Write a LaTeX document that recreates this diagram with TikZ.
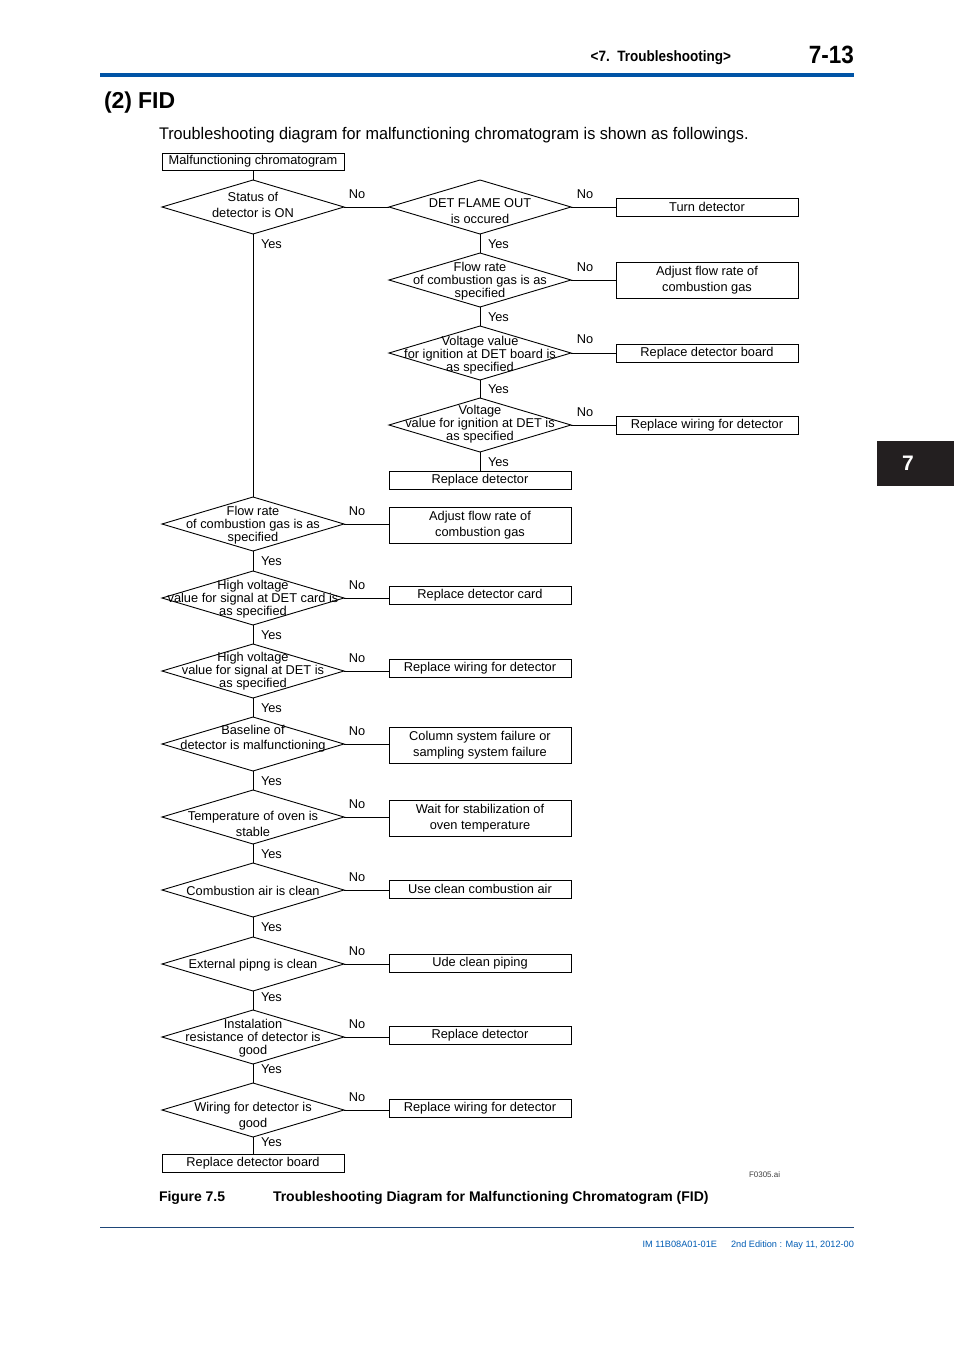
\documentclass[tikz,border=0pt]{standalone}
\usepackage{fontspec}
\setmainfont{Liberation Sans}
\newfontfamily\narrowsans[FakeStretch=0.9]{Liberation Sans}
\newfontfamily\subsans[FakeStretch=0.965]{Liberation Sans}
\usetikzlibrary{shapes.geometric}
\definecolor{hdrblue}{RGB}{0,84,166}
\definecolor{footblue}{RGB}{0,92,180}
\definecolor{footline}{RGB}{30,70,120}
\definecolor{tabblack}{RGB}{35,31,32}
\begin{document}
\begin{tikzpicture}[x=1pt,y=-1pt,
  every node/.style={inner sep=0pt, outer sep=0pt},
  dfont/.style={font=\fontsize{12.8}{16}\selectfont},
  box/.style={draw, line width=0.9pt, minimum width=182pt, minimum height=18pt, dfont, align=center},
  tallbox/.style={box, minimum height=36pt},
  dia/.style={draw, diamond, line width=0.9pt, minimum width=182pt, minimum height=54pt},
  dtext/.style={dfont, align=center},
  dtight/.style={font=\fontsize{12.8}{12.8}\selectfont, align=center},
  yeslbl/.style={dfont, anchor=west, yshift=-1pt},
  nolbl/.style={dfont, yshift=-1pt},
  conn/.style={line width=0.9pt}
]
\useasboundingbox (0,0) rectangle (954,1350);
\fill[white] (0,0) rectangle (954,1350);

% header
\node[anchor=base east, font=\narrowsans\bfseries\fontsize{15}{18}\selectfont] (hdr) at (731,61) {<7.\ \ Troubleshooting>};
\node[anchor=base east, font=\narrowsans\bfseries\fontsize{25}{30}\selectfont] (pg) at (854,63.5) {7-13};
\fill[hdrblue] (100,73.3) rectangle (854,77.3);
\node[anchor=base west, font=\bfseries\fontsize{23}{28}\selectfont] (sec) at (104,108) {(2)\hspace{6pt}FID};
\node[anchor=base west, font=\subsans\fontsize{16.8}{20}\selectfont] (sub) at (159,139) {Troubleshooting diagram for malfunctioning chromatogram is shown as followings.};

% chapter tab
\fill[tabblack] (877,441) rectangle (954,486);
\node[font=\bfseries\fontsize{21}{24}\selectfont, text=white] (tab) at (908,463) {7};

% start
\node[box, minimum height=17pt] (start) at (253,161.5) {\raisebox{-0.8pt}{Malfunctioning chromatogram}};

% right branch
\node[dia, label={[dtext,yshift=2pt]center:{Status of\\detector is ON}}] (d1) at (253,207) {};
\node[dia, label={[dtext,yshift=-4pt]center:{DET FLAME OUT\\is occured}}] (d2) at (480,207) {};
\node[box] (b2) at (707,207) {\raisebox{-0.8pt}{Turn detector}};
\node[dia, label={[dtight,yshift=-1pt]center:{Flow rate\\of combustion gas is as\\specified}}] (d3) at (480,280) {};
\node[tallbox] (b3) at (707,280) {Adjust flow rate of\\combustion gas};
\node[dia, label={[dtight,yshift=-2pt]center:{Voltage value\\for ignition at DET board is\\as specified}}] (d4) at (480,353) {};
\node[box] (b4) at (707,353) {\raisebox{-0.8pt}{Replace detector board}};
\node[dia, label={[dtight,yshift=1pt]center:{Voltage\\value for ignition at DET is\\as specified}}] (d5) at (480,425) {};
\node[box] (b5) at (707,425) {\raisebox{-0.8pt}{Replace wiring for detector}};
\node[box] (r5) at (480,480) {\raisebox{-0.8pt}{Replace detector}};

% main column
\node[dia, label={[dtight,yshift=-1pt]center:{Flow rate\\of combustion gas is as\\specified}}] (d6) at (253,524) {};
\node[tallbox] (b6) at (480,525) {Adjust flow rate of\\combustion gas};
\node[dia, label={[dtight,yshift=-1pt]center:{High voltage\\value for signal at DET card is\\as specified}}] (d7) at (253,598) {};
\node[box] (b7) at (480,595.5) {\raisebox{-0.8pt}{Replace detector card}};
\node[dia, label={[dtight]center:{High voltage\\value for signal at DET is\\as specified}}] (d8) at (253,671) {};
\node[box] (b8) at (480,668) {\raisebox{-0.8pt}{Replace wiring for detector}};
\node[dia, label={[dfont,align=center,font=\fontsize{12.8}{15}\selectfont,yshift=5.5pt]center:{Baseline of\\detector is malfunctioning}}] (d9) at (253,744) {};
\node[tallbox] (b9) at (480,745) {Column system failure or\\sampling system failure};
\node[dia, label={[dtext,yshift=-7pt]center:{Temperature of oven is\\stable}}] (d10) at (253,817) {};
\node[tallbox] (b10) at (480,818) {Wait for stabilization of\\oven temperature};
\node[dia, label={[dtext,yshift=-1pt]center:{Combustion air is clean}}] (d11) at (253,890) {};
\node[box] (b11) at (480,889) {\raisebox{-0.8pt}{Use clean combustion air}};
\node[dia, label={[dtext,yshift=-1pt]center:{External pipng is clean}}] (d12) at (253,964) {};
\node[box] (b12) at (480,963.5) {\raisebox{-0.8pt}{Ude clean piping}};
\node[dia, label={[dtight,yshift=-1pt]center:{Instalation\\resistance of detector is\\good}}] (d13) at (253,1037) {};
\node[box] (b13) at (480,1035.5) {\raisebox{-0.8pt}{Replace detector}};
\node[dia, label={[dtext,yshift=-6pt]center:{Wiring for detector is\\good}}] (d14) at (253,1110) {};
\node[box] (b14) at (480,1108.5) {\raisebox{-0.8pt}{Replace wiring for detector}};
\node[box] (final) at (253,1163) {\raisebox{-0.8pt}{Replace detector board}};

% connectors
\draw[conn] (start.south) -- (d1.north);
\draw[conn] (d1.east) -- (d2.west);
\draw[conn] (d2.east) -- (b2.west |- d2.east);
\draw[conn] (d2.south) -- (d3.north);
\draw[conn] (d3.east) -- (b3.west |- d3.east);
\draw[conn] (d3.south) -- (d4.north);
\draw[conn] (d4.east) -- (b4.west |- d4.east);
\draw[conn] (d4.south) -- (d5.north);
\draw[conn] (d5.east) -- (b5.west |- d5.east);
\draw[conn] (d5.south) -- (r5.north);
\draw[conn] (d1.south) -- (d6.north);
\draw[conn] (d6.east) -- (b6.west |- d6.east);
\draw[conn] (d6.south) -- (d7.north);
\draw[conn] (d7.east) -- (b7.west |- d7.east);
\draw[conn] (d7.south) -- (d8.north);
\draw[conn] (d8.east) -- (b8.west |- d8.east);
\draw[conn] (d8.south) -- (d9.north);
\draw[conn] (d9.east) -- (b9.west |- d9.east);
\draw[conn] (d9.south) -- (d10.north);
\draw[conn] (d10.east) -- (b10.west |- d10.east);
\draw[conn] (d10.south) -- (d11.north);
\draw[conn] (d11.east) -- (b11.west |- d11.east);
\draw[conn] (d11.south) -- (d12.north);
\draw[conn] (d12.east) -- (b12.west |- d12.east);
\draw[conn] (d12.south) -- (d13.north);
\draw[conn] (d13.east) -- (b13.west |- d13.east);
\draw[conn] (d13.south) -- (d14.north);
\draw[conn] (d14.east) -- (b14.west |- d14.east);
\draw[conn] (d14.south) -- (final.north);

% No labels
\node[nolbl] (n1) at (357,193) {No};
\node[nolbl] (n2) at (585,193) {No};
\node[nolbl] (n3) at (585,266) {No};
\node[nolbl] (n4) at (585,338) {No};
\node[nolbl] (n5) at (585,411) {No};
\node[nolbl] (n6) at (357,510) {No};
\node[nolbl] (n7) at (357,584) {No};
\node[nolbl] (n8) at (357,657) {No};
\node[nolbl] (n9) at (357,730) {No};
\node[nolbl] (n10) at (357,803) {No};
\node[nolbl] (n11) at (357,876) {No};
\node[nolbl] (n12) at (357,950) {No};
\node[nolbl] (n13) at (357,1023) {No};
\node[nolbl] (n14) at (357,1096) {No};

% Yes labels
\node[yeslbl] (y1) at (261,243) {Yes};
\node[yeslbl] (y2) at (488,243) {Yes};
\node[yeslbl] (y3) at (488,316) {Yes};
\node[yeslbl] (y4) at (488,388) {Yes};
\node[yeslbl] (y5) at (488,461) {Yes};
\node[yeslbl] (y6) at (261,560) {Yes};
\node[yeslbl] (y7) at (261,634) {Yes};
\node[yeslbl] (y8) at (261,707) {Yes};
\node[yeslbl] (y9) at (261,780) {Yes};
\node[yeslbl] (y10) at (261,853) {Yes};
\node[yeslbl] (y11) at (261,926) {Yes};
\node[yeslbl] (y12) at (261,996) {Yes};
\node[yeslbl] (y13) at (261,1068) {Yes};
\node[yeslbl] (y14) at (261,1141) {Yes};

% file tag and caption
\node[anchor=base west, font=\fontsize{8}{9}\selectfont, text=black!75] (tag) at (749,1177) {F0305.ai};
\node[anchor=base west, font=\bfseries\fontsize{14}{16}\selectfont] (figno) at (159,1201) {Figure 7.5};
\node[anchor=base west, font=\bfseries\fontsize{14}{16}\selectfont] (figcap) at (273,1201) {Troubleshooting Diagram for Malfunctioning Chromatogram (FID)};

% footer
\draw[footline, line width=0.8pt] (100,1227) -- (854,1227);
\node[anchor=base east, font=\fontsize{9.2}{11}\selectfont, text=footblue] (foot) at (854,1247) {IM 11B08A01-01E\hspace{14pt}2nd Edition : May 11, 2012-00};
\end{tikzpicture}
\end{document}
